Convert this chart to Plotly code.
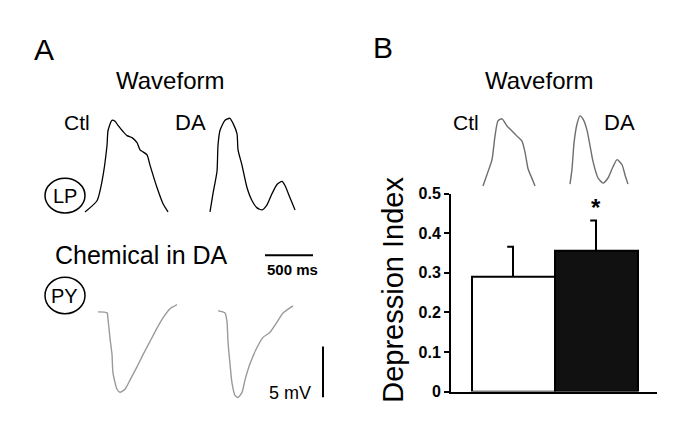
import plotly.graph_objects as go

W, H = 688, 431
OFF = 8                   # page body margin shifts the figure by 8 px
MS_PER_PX = 500 / 48      # 500 ms scale bar is 48 px long
MV_PER_PX = 5 / 53        # 5 mV scale bar is 53 px tall
FONT = "Liberation Sans, Arial, sans-serif"

# ---------------- data ----------------
conditions = ["Ctl", "DA"]
depression_index = [0.291, 0.357]
depression_sem = [0.075, 0.075]
y_ticks = [0, 0.1, 0.2, 0.3, 0.4, 0.5]
y_tick_labels = ["<b>0</b>", "<b>0.1</b>", "<b>0.2</b>", "<b>0.3</b>", "<b>0.4</b>", "<b>0.5</b>"]

# LP waveforms (time ms, voltage mV relative to baseline)
lp_ctl_t = [0, 125, 177, 229, 240, 281, 313, 344, 396, 438, 490, 542, 573, 604, 646, 677, 750, 813, 865]
lp_ctl_v = [0, 1.1, 3.0, 6.5, 8.0, 9.0, 8.9, 8.5, 7.9, 7.5, 7.3, 6.8, 6.1, 5.9, 5.6, 4.6, 2.4, 0.8, 0]
lp_da_t = [0, 31, 73, 83, 104, 156, 208, 240, 281, 292, 333, 385, 438, 490, 542, 594, 646, 698, 750, 781, 833, 886]
lp_da_v = [0, 1.8, 4.0, 6.5, 8.0, 9.0, 9.2, 8.7, 7.7, 6.1, 4.6, 2.4, 1.1, 0.4, 0.2, 0.7, 1.8, 2.7, 3.0, 2.6, 1.4, 0.2]

# PY chemical synaptic responses
py_ctl_t = [0, 94, 104, 125, 146, 156, 198, 229, 281, 333, 406, 469, 542, 615, 677, 750, 823]
py_ctl_v = [0, -0.1, -0.7, -2.6, -4.2, -6.0, -7.6, -7.9, -7.6, -6.7, -5.4, -4.2, -2.9, -1.6, -0.6, 0.3, 0.7]
py_da_t = [0, 73, 94, 104, 125, 146, 177, 208, 250, 281, 333, 406, 469, 542, 615, 677, 781]
py_da_v = [0, -0.2, -1.1, -3.0, -5.2, -7.1, -8.3, -8.5, -8.0, -6.8, -5.2, -3.6, -2.6, -2.1, -1.1, -0.2, 0.5]

# Panel B waveforms
b_ctl_t = [0, 52, 94, 125, 156, 198, 250, 302, 354, 406, 438, 469, 510, 542]
b_ctl_v = [0, 1.4, 2.6, 4.9, 6.4, 6.6, 5.9, 5.4, 4.9, 4.4, 3.3, 1.7, 0.75, 0]
b_da_t = [0, 21, 42, 73, 104, 135, 177, 208, 240, 292, 344, 396, 448, 490, 542, 573, 604]
b_da_v = [0, 1.5, 4.05, 5.9, 6.7, 6.4, 5.3, 3.8, 2.2, 0.6, 0.1, 0.6, 1.7, 2.4, 1.9, 0.9, 0]

scale_time_ms = 500
scale_volt_mv = 5


# ---------------- helpers (window pixel -> figure coords) ----------------
def px(x):
    return (x - OFF) / W


def py(y):
    return 1 - (y - OFF) / H


def to_ms(x):
    return (x - OFF) * MS_PER_PX


def to_mv(y):
    return (H - (y - OFF)) * MV_PER_PX


fig = go.Figure()

# ---------------- bar chart (panel B) ----------------
bar_x = list(range(len(conditions)))
fig.add_trace(go.Bar(
    x=bar_x, y=depression_index, width=1,
    marker=dict(color=["white", "#111111"], line=dict(color="black", width=2)),
    hoverinfo="skip", showlegend=False,
))
for i, (v, e) in enumerate(zip(depression_index, depression_sem)):
    fig.add_trace(go.Scatter(
        x=[bar_x[i] - 0.07, bar_x[i], bar_x[i]], y=[v + e, v + e, v],
        mode="lines", line=dict(color="black", width=2),
        hoverinfo="skip", showlegend=False,
    ))

# ---------------- waveforms ----------------
waves = [
    (lp_ctl_t, lp_ctl_v, (85, 212), "black", 1.3),
    (lp_da_t, lp_da_v, (210, 212), "black", 1.3),
    (py_ctl_t, py_ctl_v, (98, 316), "#9a9a9a", 1.4),
    (py_da_t, py_da_v, (218, 315), "#9a9a9a", 1.4),
    (b_ctl_t, b_ctl_v, (483, 185), "#6e6e6e", 1.4),
    (b_da_t, b_da_v, (570, 183), "#6e6e6e", 1.4),
]
for T, V, (x0, y0), col, lw in waves:
    fig.add_trace(go.Scatter(
        x=[t + to_ms(x0) for t in T], y=[v + to_mv(y0) for v in V],
        xaxis="x2", yaxis="y2", mode="lines",
        line=dict(color=col, width=lw, shape="spline", smoothing=0.6),
        hoverinfo="skip", showlegend=False,
    ))

# scale bars
sx0, sy0 = 265, 257
fig.add_trace(go.Scatter(
    x=[to_ms(sx0), to_ms(sx0) + scale_time_ms], y=[to_mv(sy0), to_mv(sy0)],
    xaxis="x2", yaxis="y2", mode="lines", line=dict(color="black", width=2),
    hoverinfo="skip", showlegend=False,
))
vx0, vy0 = 323, 405
fig.add_trace(go.Scatter(
    x=[to_ms(vx0), to_ms(vx0)], y=[to_mv(vy0), to_mv(vy0) + scale_volt_mv],
    xaxis="x2", yaxis="y2", mode="lines", line=dict(color="black", width=2),
    hoverinfo="skip", showlegend=False,
))

# ---------------- annotations ----------------
ann = []


def label(text, x, y, size, bold=False, angle=0):
    t = f"<b>{text}</b>" if bold else text
    ann.append(dict(text=t, x=px(x), y=py(y), xref="paper", yref="paper",
                    showarrow=False, xanchor="center", yanchor="middle",
                    textangle=angle, font=dict(family=FONT, size=size, color="black")))


label("A", 44, 43, 30)
label("B", 383, 41, 30)
label("Waveform", 170, 75, 24)
label("Waveform", 539, 75, 24)
label("Ctl", 77, 119, 21)
label("DA", 191, 119, 22)
label("Ctl", 466, 119, 21)
label("DA", 619, 119, 22)
label("Chemical in DA", 141, 257, 25)
label("500 ms", 292, 272, 15, bold=True)
label("5 mV", 290, 400, 18)
label("LP", 65, 195, 20)
label("PY", 65, 299, 20)
label("Depression Index", 393, 293, 29, angle=-90)

ann.append(dict(text="<b>*</b>", x=1, y=0.466, xref="x", yref="y", showarrow=False,
                xanchor="center", yanchor="middle",
                font=dict(family=FONT, size=24, color="black")))

shapes = [
    dict(type="circle", xref="paper", yref="paper", x0=px(45), x1=px(85), y0=py(213), y1=py(177),
         line=dict(color="black", width=1.5)),
    dict(type="circle", xref="paper", yref="paper", x0=px(45), x1=px(85), y0=py(318), y1=py(280),
         line=dict(color="black", width=1.5)),
]

fig.update_layout(
    width=W, height=H, margin=dict(l=0, r=0, t=0, b=0),
    paper_bgcolor="white", plot_bgcolor="rgba(0,0,0,0)",
    showlegend=False, annotations=ann, shapes=shapes,
    font=dict(family=FONT, color="black"),
    bargap=0,
    xaxis=dict(domain=[px(451), px(657)], range=[-0.747, 1.735],
               showline=True, linecolor="black", linewidth=2, showgrid=False,
               zeroline=False, showticklabels=False, ticks="", fixedrange=True),
    yaxis=dict(domain=[py(399), py(193)], range=[0, 0.5],
               showline=True, linecolor="black", linewidth=2, showgrid=False,
               zeroline=False, tickvals=y_ticks, ticktext=y_tick_labels,
               ticks="outside", ticklen=5, tickwidth=2, tickcolor="black",
               tickfont=dict(family=FONT, size=16, color="black"), fixedrange=True),
    xaxis2=dict(domain=[0, 1], range=[0, W * MS_PER_PX], anchor="y2", visible=False, fixedrange=True),
    yaxis2=dict(domain=[0, 1], range=[0, H * MV_PER_PX], anchor="x2", visible=False, fixedrange=True),
)

fig.write_html("out.html")
